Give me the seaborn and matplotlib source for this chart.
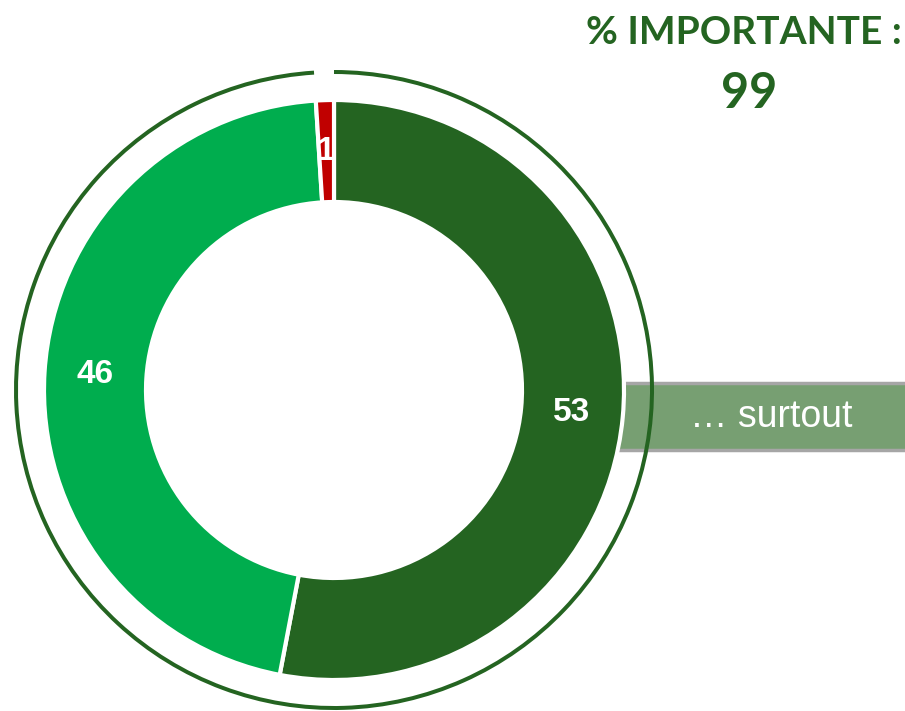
import matplotlib
matplotlib.use("Agg")
import matplotlib.pyplot as plt
import seaborn as sns
import numpy as np
from matplotlib.patches import Rectangle

sns.set_theme(style="white")
plt.rcParams['font.family'] = ['Liberation Sans', 'DejaVu Sans']

# Data
categories = ["Très importante", "Assez importante", "Pas importante"]
values = [53, 46, 1]
labels = ["53", "46", "1"]
colors = ["#246421", "#00AD4E", "#C00000"]
importante_total = 99
title_text = "% IMPORTANTE :"
callout_text = "\u2026 surtout"

W, H = 905, 711
fig = plt.figure(figsize=(W / 100, H / 100), dpi=100)
ax = fig.add_axes([0, 0, 1, 1])

cx, cy = 334, H - 390
r_out, r_in = 290, 188

# Callout box (behind donut)
box_top, box_bot = 383, 450
box_left = cx + r_out - 50
ax.add_patch(Rectangle((box_left, H - box_bot), W - box_left + 10,
                       box_bot - box_top,
                       facecolor="#779F72", edgecolor="#A6A6A6", lw=2.5, zorder=1))
ax.text(771, H - 417, callout_text, color="white", fontsize=27, ha="center",
        va="center", zorder=2)

# Donut
wedges, _ = ax.pie(values, colors=colors, startangle=90, counterclock=False,
                   radius=r_out, center=(cx, cy), frame=True,
                   wedgeprops=dict(width=r_out - r_in, edgecolor="white", linewidth=3))
for w in wedges:
    w.set_zorder(3)

# Labels
cum = np.cumsum([0] + values)
total = sum(values)
r_lab = (r_out + r_in) / 2
for i, lab in enumerate(labels):
    mid = 90 - (cum[i] + values[i] / 2) / total * 360
    x = cx + r_lab * np.cos(np.radians(mid))
    y = cy + r_lab * np.sin(np.radians(mid))
    ax.text(x, y, lab, color="white", fontsize=24, fontweight="bold",
            ha="center", va="center", zorder=5)

# Outer ring (99 %)
ring, _ = ax.pie([importante_total, 100 - importante_total],
                 colors=["#246421", "none"], startangle=90, counterclock=False,
                 radius=320, center=(cx, cy), frame=True,
                 wedgeprops=dict(width=4, linewidth=0))
for w in ring:
    w.set_zorder(4)

ax.set_xlim(0, W)
ax.set_ylim(0, H)
ax.set_aspect("equal")
ax.axis("off")

# Title
ax.text(744, H - 32, title_text, color="#246421", fontsize=28, fontweight="bold",
        ha="center", va="center", family=["Lato", "DejaVu Sans"])
ax.text(749, H - 93, str(importante_total), color="#246421", fontsize=35,
        fontweight="bold", ha="center", va="center", family=["Lato", "DejaVu Sans"])

fig.savefig("out.png", dpi=100)
